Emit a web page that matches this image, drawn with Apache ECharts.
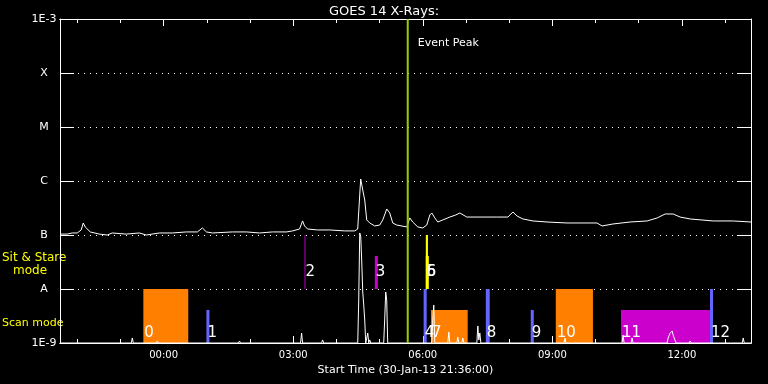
<!DOCTYPE html>
<html><head><meta charset="utf-8">
<script src="https://cdn.jsdelivr.net/npm/echarts@6/dist/echarts.min.js"></script>
<style>html,body{margin:0;padding:0;background:#000;}#c{width:768px;height:384px;}</style>
</head><body><div id="c"></div>
<script>
// Time in hours relative to 31-Jan-13 00:00 (start 30-Jan-13 21:36 = -2.4)
const startHour = -2.4;
const endHour = 13.6;
const levelNames = { '-9': '1E-9', '-8': 'A', '-7': 'B', '-6': 'C', '-5': 'M', '-4': 'X', '-3': '1E-3' };

// GOES 14 long channel (1-8 A), W/m^2
const longTimes = [-2.40,-2.233,-2.117,-2.001,-1.909,-1.862,-1.816,-1.770,-1.700,-1.654,-1.491,-1.306,-1.190,-0.865,-0.564,-0.401,-0.100,0.202,0.526,0.781,0.897,0.990,1.130,1.593,1.918,2.219,2.521,2.846,2.985,3.147,3.217,3.263,3.333,3.565,3.843,4.191,4.423,4.493,4.540,4.563,4.610,4.656,4.702,4.772,4.888,5.004,5.073,5.166,5.235,5.305,5.397,5.629,5.699,5.768,5.884,6.000,6.093,6.163,6.209,6.279,6.348,6.464,6.626,6.765,6.858,7.020,7.391,7.716,7.971,8.087,8.180,8.319,8.551,8.876,9.340,9.641,10.035,10.151,10.406,10.801,11.195,11.427,11.612,11.798,11.960,12.192,12.726,13.190,13.60];
const longFlux = [1.04e-7,1.04e-7,1.09e-7,1.09e-7,1.24e-7,1.67e-7,1.41e-7,1.47e-7,1.14e-7,1.09e-7,1.04e-7,1.0e-7,1.09e-7,1.04e-7,1.09e-7,1.0e-7,1.09e-7,1.09e-7,1.14e-7,1.14e-7,1.35e-7,1.14e-7,1.09e-7,1.14e-7,1.14e-7,1.09e-7,1.14e-7,1.14e-7,1.19e-7,1.29e-7,1.82e-7,1.47e-7,1.29e-7,1.24e-7,1.24e-7,1.19e-7,1.19e-7,1.29e-7,5.5e-7,1.09e-6,6.81e-7,4.45e-7,1.90e-7,1.67e-7,1.47e-7,1.53e-7,1.90e-7,3.03e-7,2.56e-7,1.67e-7,1.53e-7,1.41e-7,2.07e-7,1.74e-7,1.41e-7,1.35e-7,1.53e-7,2.35e-7,2.56e-7,2.07e-7,1.74e-7,1.90e-7,2.15e-7,2.35e-7,2.56e-7,2.15e-7,2.15e-7,2.15e-7,2.15e-7,2.67e-7,2.25e-7,1.98e-7,1.82e-7,1.74e-7,1.67e-7,1.67e-7,1.67e-7,1.47e-7,1.60e-7,1.74e-7,1.82e-7,2.07e-7,2.45e-7,2.45e-7,2.15e-7,1.98e-7,1.82e-7,1.82e-7,1.74e-7];

// GOES 14 short channel (0.5-4 A), W/m^2
const shortTimes = [-2.40,-0.749,-0.726,-0.703,-0.169,-0.146,-0.123,1.732,1.756,1.779,3.170,3.194,3.217,3.657,3.681,3.704,4.494,4.517,4.540,4.563,4.587,4.610,4.633,4.656,4.679,4.702,4.726,4.749,4.772,4.795,5.095,5.118,5.142,5.165,5.188,6.209,6.232,6.255,6.278,6.580,6.603,6.626,6.788,6.811,6.834,6.904,6.927,6.951,7.252,7.275,7.298,7.321,7.345,9.270,9.293,9.316,10.615,10.638,10.661,10.823,10.846,10.869,11.658,11.682,11.705,11.728,11.751,11.774,11.797,11.821,11.844,11.867,12.169,12.192,12.215,13.397,13.420,13.443,13.60];
const shortFlux = [1e-9,1e-9,1.24e-9,1e-9,1e-9,1.09e-9,1e-9,1e-9,1.09e-9,1e-9,1e-9,1.53e-9,1e-9,1e-9,1.14e-9,1e-9,1e-9,6.25e-9,1.09e-7,9.58e-8,3.16e-8,8.8e-9,5.06e-9,2.67e-9,1e-9,1e-9,1.53e-9,1e-9,1.14e-9,1e-9,1e-9,2.67e-9,8.8e-9,6.25e-9,1e-9,1e-9,2.67e-9,5.06e-9,1e-9,1e-9,1.60e-9,1e-9,1e-9,1.29e-9,1e-9,1e-9,1.24e-9,1e-9,1e-9,2.07e-9,1.14e-9,1.53e-9,1e-9,1e-9,1.24e-9,1e-9,1e-9,1.41e-9,1e-9,1e-9,1.24e-9,1e-9,1e-9,1.24e-9,1.35e-9,1.53e-9,1.47e-9,1.67e-9,1.41e-9,1.24e-9,1.29e-9,1e-9,1e-9,1.09e-9,1e-9,1e-9,1.24e-9,1e-9,1e-9];

// Observations (start/end in hours, band low/high in W/m^2)
const obsLabels = ['0','1','2','3','4','5','6','7','8','9','10','11','12'];
const obsStart  = [-0.47, 0.99, 3.26, 4.89, 6.02, 6.07, 6.07, 6.19, 7.46, 8.50, 9.08, 10.59, 12.65];
const obsEnd    = [ 0.57, 1.06, 3.285, 4.96, 6.09, 6.12, 6.14, 7.04, 7.55, 8.57, 9.94, 12.65, 12.72];
const obsLow    = [1e-9, 1e-9, 1e-8, 1e-8, 1e-9, 1e-8, 1e-8, 1e-9, 1e-9, 1e-9, 1e-9, 1e-9, 1e-9];
const obsHigh   = [1e-8, 4.1e-9, 1e-7, 4.1e-8, 1e-8, 1e-7, 4.1e-8, 4.1e-9, 1e-8, 4.1e-9, 1e-8, 4.1e-9, 1e-8];
const obsColors = ['#ff8000','#6464ff','#b000b0','#cc00cc','#6464ff','#ffff00','#ffff00','#ff8000','#6464ff','#6464ff','#ff8000','#cc00cc','#6464ff'];

const eventPeakTime = 5.652;

const FONT = 'DejaVu Sans';
const chart = echarts.init(document.getElementById('c'), null, { renderer: 'canvas' });

function hourLabel(v) {
  const r = Math.round(v);
  if (Math.abs(v - r) > 1e-6 || r % 3 !== 0) return '';
  const h = ((r % 24) + 24) % 24;
  return (h < 10 ? '0' : '') + h + ':00';
}
function xAx(pos, step, len, labels) {
  const a = {
    type: 'value', position: pos, min: startHour, max: endHour,
    splitNumber: step === 1 ? 16 : 5, minInterval: step, maxInterval: step,
    axisLine: { show: true, onZero: false, lineStyle: { color: '#fff', width: 1 } },
    axisTick: { show: true, inside: true, length: len, lineStyle: { color: '#fff', width: 1 } },
    splitLine: { show: false },
    axisLabel: { show: false }
  };
  if (labels) {
    a.axisLabel = { show: true, color: '#fff', fontFamily: FONT, fontSize: 10, margin: 7, formatter: hourLabel, showMinLabel: true, showMaxLabel: true };
    a.name = 'Start Time (30-Jan-13 21:36:00)';
    a.nameLocation = 'middle';
    a.nameGap = 19;
    a.nameTextStyle = { color: '#fff', fontFamily: FONT, fontSize: 11 };
  }
  return a;
}
function yAx(pos, labels) {
  return {
    type: 'log', logBase: 10, position: pos, min: 1e-9, max: 1e-3, splitNumber: 6,
    axisLine: { show: true, onZero: false, lineStyle: { color: '#fff', width: 1 } },
    axisTick: { show: true, inside: true, length: 14, lineStyle: { color: '#fff', width: 1 } },
    splitLine: { show: labels, lineStyle: { color: '#fff', width: 1, type: [1, 5] } },
    axisLabel: labels ? {
      show: true, color: '#fff', fontFamily: FONT, fontSize: 11, margin: 16, align: 'center',
      formatter: v => levelNames[String(Math.round(Math.log10(v)))] || ''
    } : { show: false }
  };
}

const option = {
  animation: false,
  backgroundColor: '#000',
  title: { text: 'GOES 14 X-Rays:', left: 'center', top: 0, textStyle: { color: '#fff', fontFamily: FONT, fontSize: 13, fontWeight: 'normal' } },
  grid: { left: 60, right: 17, top: 19, bottom: 41, containLabel: false },
  xAxis: [xAx('bottom', 1, 4, false), xAx('bottom', 3, 7, true), xAx('top', 1, 4, false), xAx('top', 3, 7, false)],
  yAxis: [yAx('left', true), yAx('right', false)],
  graphic: [
    { type: 'text', left: 2, top: 252, style: { text: 'Sit & Stare', fill: '#ffff00', font: '12px ' + FONT } },
    { type: 'text', left: 13, top: 265, style: { text: 'mode', fill: '#ffff00', font: '12px ' + FONT } },
    { type: 'text', left: 2, top: 318, style: { text: 'Scan mode', fill: '#ffff00', font: '11px ' + FONT } }
  ],
  series: [
    {
      type: 'custom', xAxisIndex: 1, yAxisIndex: 0, z: 1,
      encode: { x: [0, 1], y: [2, 3] },
      data: obsStart.map((s, i) => [s, obsEnd[i], obsLow[i], obsHigh[i]]),
      renderItem: (params, api) => {
        const i = params.dataIndex;
        const p0 = api.coord([api.value(0), api.value(3)]);
        const p1 = api.coord([api.value(1), api.value(2)]);
        const w = Math.max(p1[0] - p0[0], 1);
        const ly = p1[1] - (api.value(2) < 5e-9 ? 10 : 17);
        return { type: 'group', children: [
          { type: 'rect', shape: { x: p0[0], y: p0[1], width: w, height: p1[1] - p0[1] }, style: { fill: obsColors[i] } },
          { type: 'text', x: p0[0] + 1, y: ly, z2: 10, style: { text: obsLabels[i], fill: '#fff', font: '15px ' + FONT, verticalAlign: 'middle', align: 'left' } }
        ] };
      }
    },
    {
      type: 'line', xAxisIndex: 1, yAxisIndex: 0, z: 3, showSymbol: false, symbol: 'none',
      lineStyle: { color: '#fff', width: 1 },
      data: shortTimes.map((t, i) => [t, shortFlux[i]])
    },
    {
      type: 'line', xAxisIndex: 1, yAxisIndex: 0, z: 3, showSymbol: false, symbol: 'none',
      lineStyle: { color: '#fff', width: 1 },
      data: longTimes.map((t, i) => [t, longFlux[i]])
    },
    {
      type: 'custom', xAxisIndex: 1, yAxisIndex: 0, z: 5,
      encode: { x: 0, y: 1 },
      data: [[eventPeakTime, 1e-3]],
      renderItem: (params, api) => {
        const t = api.value(0);
        const top = api.coord([t, 1e-3]);
        const bot = api.coord([t, 1e-9]);
        return { type: 'group', children: [
          { type: 'line', shape: { x1: top[0], y1: top[1], x2: bot[0], y2: bot[1] }, style: { stroke: '#9ccc00', lineWidth: 2 } },
          { type: 'text', x: top[0] + 10, y: top[1] + 24, style: { text: 'Event Peak', fill: '#fff', font: '11px ' + FONT, verticalAlign: 'middle' } }
        ] };
      }
    }
  ]
};
chart.setOption(option);
</script></body></html>
